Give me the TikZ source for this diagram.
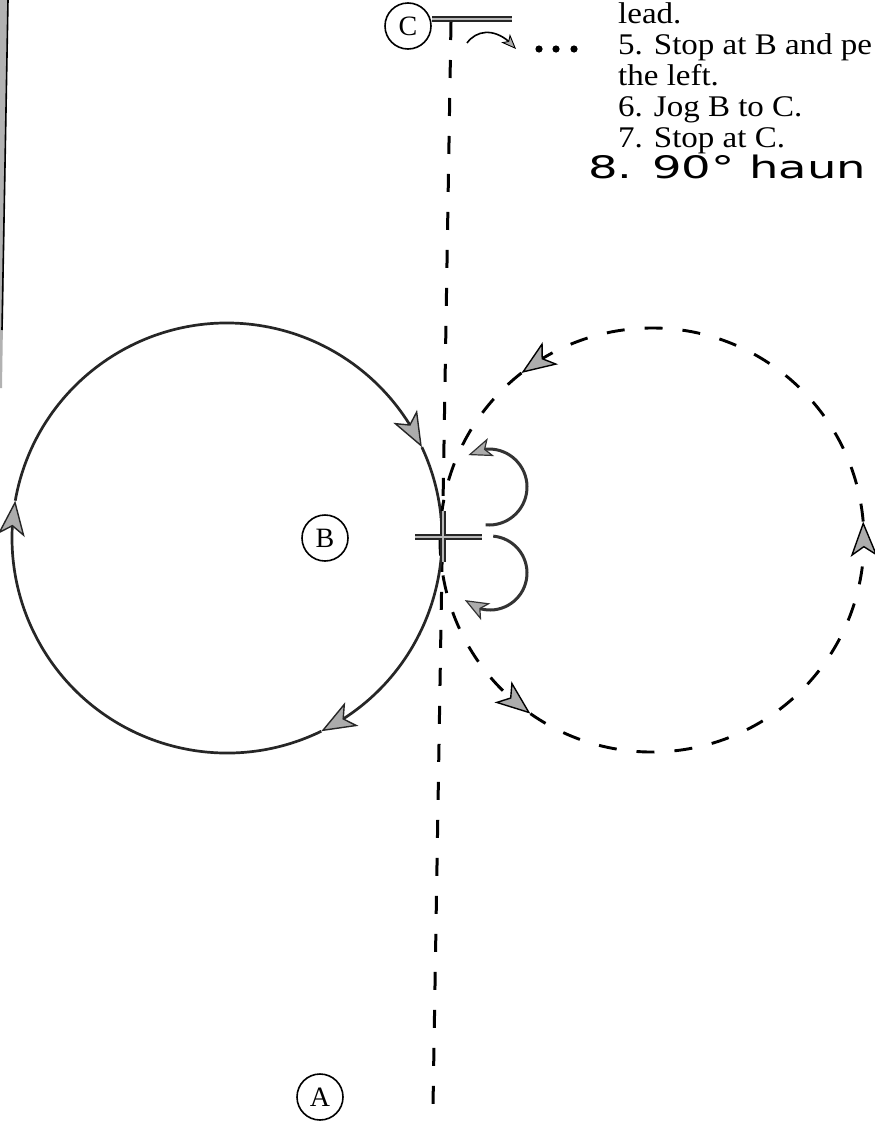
\documentclass[tikz,border=0pt]{standalone}
\usepackage{fontspec}
\setmainfont{Liberation Serif}
\newfontfamily\bookfont[FakeStretch=1.1]{Liberation Serif}
\newfontfamily\handfont[FakeStretch=1.5]{DejaVu Sans}
\usetikzlibrary{arrows.meta,bending}
\begin{document}
\begin{tikzpicture}[x=1pt,y=-1pt,
  lbl/.style={circle,draw=black,line width=1.6pt,inner sep=0pt,minimum size=46pt,font=\fontsize{28}{28}\selectfont},
  txt/.style={anchor=base west,inner sep=0pt,font=\bookfont\fontsize{30}{30}\selectfont},
  ring/.style={line width=2.7pt,draw=black!85},
  dring/.style={line width=2.9pt,draw=black,dash pattern=on 18pt off 20pt},
  bigtip/.style={-{Stealth[length=35pt,width=27pt,inset=9pt,fill=gray!65,line width=1.4pt]}},
  smalltip/.style={-{Stealth[length=24pt,width=19pt,inset=6pt,fill=gray!65,line width=1.2pt]}},
  tinytip/.style={-{Stealth[length=15pt,width=12pt,inset=4pt,fill=gray!65,line width=0.9pt]}},
  hook/.style={line width=3pt,draw=black!80},
  bar/.style={line width=5.5pt,draw=black!85},
  barfill/.style={line width=2.5pt,draw=gray!55},
  vdash/.style={line width=3pt,draw=black,dash pattern=on 18pt off 20pt}
]
\fill[white] (0,0) rectangle (875,1130);
\useasboundingbox (0,0) rectangle (875,1130);

% left border of the scanned page
\fill[gray!60] (0,0) -- (8,0) -- (2,388) -- (0,388) -- cycle;
\draw[line width=1.6pt] (8,0) -- (2,330);

% centres
\coordinate (O1) at (227,538);
\coordinate (O2) at (652,540);

% labels
\node[lbl] (C) at (408,26) {C};
\node[lbl] (B) at (325,538) {B};
\node[lbl] (A) at (320,1097) {A};

% T bar at C and the dashed centre line
\coordinate (Tl) at (432,19);
\coordinate (Tr) at (512,19);
\coordinate (Ltop) at (451,22);
\coordinate (Lbot) at (433,1106);
\draw[vdash] (Ltop) -- (Lbot);
\draw[bar] (Tl) -- (Tr);
\draw[barfill] (Tl) -- (Tr);

% small curved arrow and dots at C
\coordinate (ca) at (467,43);
\coordinate (cb) at (516,49);
\draw[line width=1.6pt,tinytip] (ca) .. controls (478,28) and (499,28) .. (cb);
\fill (539,49) circle (3.6);
\fill (556,49) circle (3.6);
\fill (574,49) circle (3.6);

% solid circle (clockwise)
\draw[ring,bigtip] ([shift={(190:215)}]O1) arc[start angle=190,end angle=335,radius=215];
\draw[ring,bigtip] ([shift={(335:215)}]O1) arc[start angle=335,end angle=424,radius=215];
\draw[ring,bigtip] ([shift={(64:215)}]O1) arc[start angle=64,end angle=190,radius=215];

% dashed circle (counter-clockwise)
\draw[dring,bigtip] ([shift={(355:212)}]O2) arc[start angle=355,end angle=232,radius=212];
\draw[dring,bigtip] ([shift={(232:212)}]O2) arc[start angle=232,end angle=125,radius=212];
\draw[dring,bigtip] ([shift={(125:212)}]O2) arc[start angle=125,end angle=-5,radius=212];

% the two pivot hooks
\coordinate (P1) at (489,487);
\coordinate (P2) at (490,573);
\draw[hook,smalltip] ([shift={(95:38)}]P1) arc[start angle=95,end angle=-123,radius=38];
\draw[hook,smalltip] ([shift={(-85:37)}]P2) arc[start angle=-85,end angle=133,radius=37];

% cross at B
\coordinate (Xl) at (415,537);
\coordinate (Xr) at (482,537);
\coordinate (Xt) at (443,511);
\coordinate (Xb) at (443,562);
\draw[bar] (Xl) -- (Xr);
\draw[bar] (Xt) -- (Xb);
\draw[barfill] (Xl) -- (Xr);
\draw[barfill] (Xt) -- (Xb);

% text
\node[txt] (t1) at (618,23) {lead.};
\node[txt] (t2) at (618,54) {5. Stop at B and pe};
\node[txt] (t3) at (618,85) {the left.};
\node[txt] (t4) at (618,116) {6. Jog B to C.};
\node[txt] (t5) at (618,147) {7. Stop at C.};
\node[anchor=base west,inner sep=0pt,font=\handfont\fontsize{31}{31}\selectfont] (t6) at (588,178) {8. 90° haun};
\end{tikzpicture}
\end{document}
